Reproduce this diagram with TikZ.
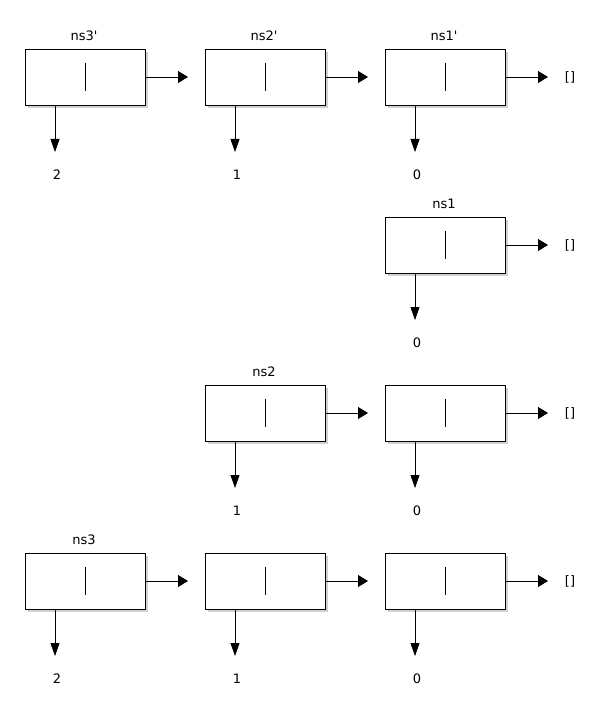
\documentclass[tikz,border=0pt]{standalone}
\usepackage{fontspec}
\setmainfont{DejaVu Sans}[Ligatures=TeXOff]
\usetikzlibrary{arrows.meta}
\tikzset{
  cell/.style={draw=black, fill=white, minimum width=120pt, minimum height=56pt, inner sep=0pt, line width=0.8pt},
  shadowbox/.style={fill=black!18, draw=none, minimum width=120pt, minimum height=56pt, inner sep=0pt},
  lbl/.style={font=\fontsize{13}{15}\selectfont, inner sep=0pt},
  arr/.style={-{Triangle[length=10pt,width=12pt]}, line width=0.8pt},
  darr/.style={-{Triangle[length=13pt,width=9pt]}, line width=0.8pt},
}
\newcommand{\mycell}[4]{% name, x, y, value
  \node[shadowbox] at (#2+3,#3+3) {};
  \node[cell] (#1) at (#2,#3) {};
  \draw[line width=0.8pt] (#2,#3-14) -- (#2,#3+14);
  \coordinate (#1-d) at (#2-30,#3+75);
  \node[lbl] (#1-v) at (#2-28,#3+98) {#4};
  \draw[darr] (#2-30,#3+28) -- (#1-d);
}
\begin{document}
\begin{tikzpicture}[x=1pt,y=-1pt]
\useasboundingbox (0,0) rectangle (600,714);
% row 1
\mycell{a1}{85}{77}{2}
\mycell{a2}{265}{77}{1}
\mycell{a3}{445}{77}{0}
\node[lbl] (la) at (84,36) {ns3'};
\node[lbl] (la2) at (264,36) {ns2'};
\node[lbl] (la3) at (444,36) {ns1'};
\node[lbl] (nila) at (570,77) {[]};
\coordinate (ea1) at (188,77);
\coordinate (ea2) at (368,77);
\coordinate (ea3) at (548,77);
\draw[arr] (a1.east) -- (ea1);
\draw[arr] (a2.east) -- (ea2);
\draw[arr] (a3.east) -- (ea3);
% row 2
\mycell{b3}{445}{245}{0}
\node[lbl] (lb) at (444,204) {ns1};
\node[lbl] (nilb) at (570,245) {[]};
\coordinate (eb3) at (548,245);
\draw[arr] (b3.east) -- (eb3);
% row 3
\mycell{c2}{265}{413}{1}
\mycell{c3}{445}{413}{0}
\node[lbl] (lc) at (264,372) {ns2};
\node[lbl] (nilc) at (570,413) {[]};
\coordinate (ec2) at (368,413);
\coordinate (ec3) at (548,413);
\draw[arr] (c2.east) -- (ec2);
\draw[arr] (c3.east) -- (ec3);
% row 4
\mycell{d1}{85}{581}{2}
\mycell{d2}{265}{581}{1}
\mycell{d3}{445}{581}{0}
\node[lbl] (ld) at (84,540) {ns3};
\node[lbl] (nild) at (570,581) {[]};
\coordinate (ed1) at (188,581);
\coordinate (ed2) at (368,581);
\coordinate (ed3) at (548,581);
\draw[arr] (d1.east) -- (ed1);
\draw[arr] (d2.east) -- (ed2);
\draw[arr] (d3.east) -- (ed3);
\end{tikzpicture}
\end{document}
